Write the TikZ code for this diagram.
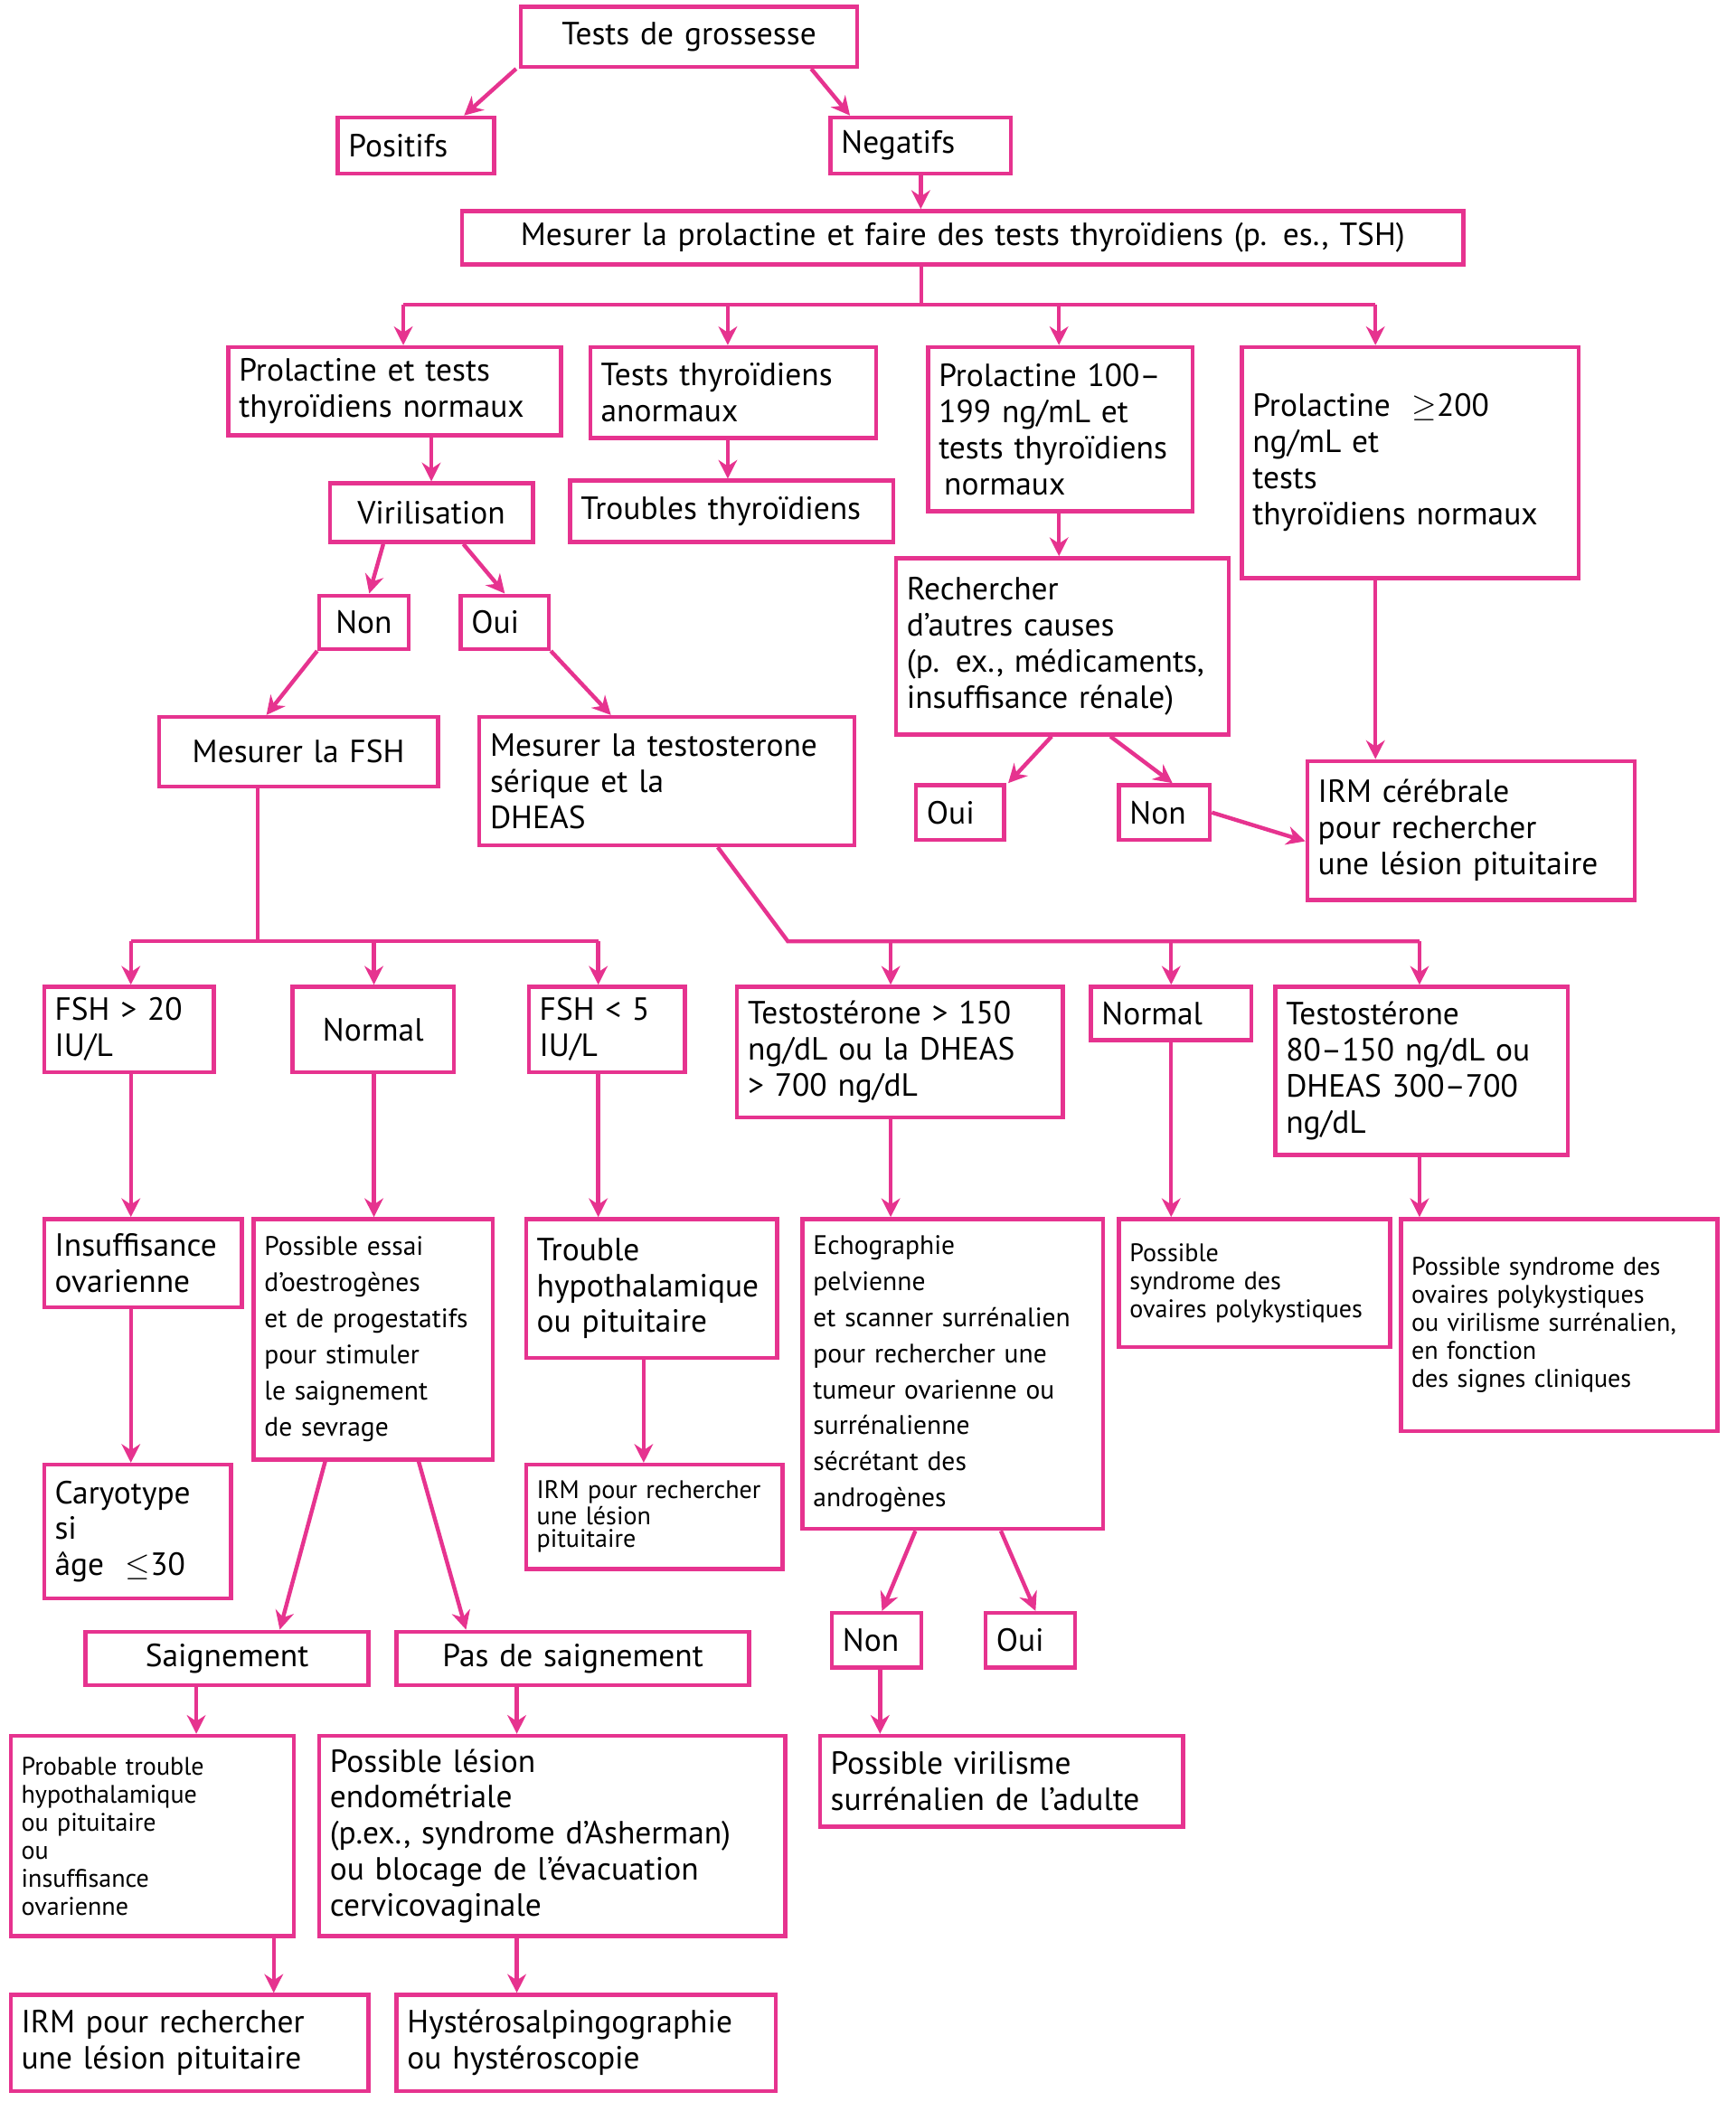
\documentclass[tikz,border=0pt]{standalone}
\usepackage{fontspec}
\setmainfont{PT Sans}
\usetikzlibrary{arrows.meta}
\definecolor{pk}{HTML}{E6338F}
\tikzset{
 box/.style={draw=pk,line width=1.5pt,inner xsep=4pt,inner ysep=2pt,align=left,font=\fontsize{12}{13.5}\selectfont},
 sm/.style={font=\fontsize{10}{13.5}\selectfont},
 xs/.style={font=\fontsize{9.5}{10.5}\selectfont},
 xxs/.style={font=\fontsize{9.5}{8.5}\selectfont},
 arr/.style={draw=pk,line width=1.5pt,-{Stealth[length=7pt,width=7pt]}},
 ln/.style={draw=pk,line width=1.5pt}
}
\newcommand\bx[7]{%
 \pgfmathsetmacro\bw{(#4-#2)*0.5}\pgfmathsetmacro\bh{(#5-#3)*0.5}\pgfmathsetmacro\tw{\bw-8}%
 \node[box,minimum width=\bw pt,minimum height=\bh pt,text width=\tw pt,#6] (#1) at ({(#2+#4)/2},{(#3+#5)/2}) {#7};}
\begin{document}
\begin{tikzpicture}[x=0.5pt,y=-0.5pt]
\useasboundingbox (0,0) rectangle (1300,1581);
\bx{tests}{390}{5}{642}{50}{align=center}{Tests de grossesse}
\bx{pos}{253}{88}{370}{130}{}{Positifs}
\bx{neg}{622}{88}{757}{130}{}{Negatifs}
\bx{mes}{346}{158}{1096}{198}{align=center}{Mesurer la prolactine et faire des tests thyroïdiens (p. es., TSH)}
\bx{pn}{171}{260}{420}{326}{}{Prolactine et tests\\thyroïdiens normaux}
\bx{ta}{442}{260}{656}{328}{}{Tests thyroïdiens\\anormaux}
\bx{p100}{695}{260}{893}{383}{}{Prolactine 100–\\199 ng/mL et\\tests thyroïdiens\\\hspace*{2pt}normaux}
\bx{p200}{930}{260}{1182}{433}{anchor=center}{Prolactine ~$\geq$200\\ng/mL et\\tests\\thyroïdiens normaux\\[3.5em]}
\bx{vir}{247}{362}{399}{406}{align=center}{Virilisation}
\bx{tt}{427}{360}{669}{406}{}{Troubles thyroïdiens}
\bx{rech}{671}{418}{920}{550}{}{Rechercher\\d'autres causes\\(p. ex., médicaments,\\insuffisance rénale)}
\bx{non1}{239}{446}{306}{486}{align=center}{Non}
\bx{oui1}{345}{446}{411}{486}{}{Oui}
\bx{fsh}{119}{537}{328}{589}{align=center}{Mesurer la FSH}
\bx{testo}{359}{537}{640}{633}{}{Mesurer la testosterone\\sérique et la\\DHEAS}
\bx{oui2}{686}{588}{752}{629}{}{Oui}
\bx{non2}{838}{588}{906}{629}{}{Non}
\bx{irm1}{979}{570}{1224}{674}{}{IRM cérébrale\\pour rechercher\\une lésion pituitaire}
\bx{fsh20}{33}{739}{160}{803}{}{FSH > 20\\IU/L}
\bx{norm1}{219}{739}{340}{803}{align=center}{Normal\\[1.2em]}
\bx{fsh5}{396}{739}{513}{803}{}{FSH < 5\\IU/L}
\bx{t150}{552}{739}{796}{837}{}{Testostérone > 150\\ng/dL ou la DHEAS\\> 700 ng/dL}
\bx{norm2}{817}{739}{937}{779}{}{Normal}
\bx{t80}{955}{739}{1174}{865}{}{Testostérone\\80–150 ng/dL ou\\DHEAS 300–700\\ng/dL}
\bx{ins}{33}{913}{181}{979}{}{Insuffisance\\ovarienne}
\bx{poss}{190}{913}{369}{1093}{sm}{Possible essai\\d'oestrogènes\\et de progestatifs\\pour stimuler\\le saignement\\de sevrage}
\bx{trouble}{394}{913}{582}{1017}{}{Trouble\\hypothalamique\\ou pituitaire}
\bx{echo}{601}{913}{826}{1145}{sm}{Echographie\\pelvienne\\et scanner surrénalien\\pour rechercher une\\tumeur ovarienne ou\\surrénalienne\\sécrétant des\\androgènes}
\bx{pcos}{838}{913}{1041}{1009}{xs}{Possible\\syndrome des\\ovaires polykystiques\\[1.2em]}
\bx{pcos2}{1049}{913}{1286}{1072}{xs}{Possible syndrome des\\ovaires polykystiques\\ou virilisme surrénalien,\\en fonction\\des signes cliniques\\[1.5em]}
\bx{cary}{33}{1097}{173}{1197}{}{Caryotype\\si\\âge ~$\leq$30}
\bx{irm2}{394}{1097}{586}{1175}{xxs}{IRM pour rechercher\\une lésion\\pituitaire}
\bx{saign}{64}{1222}{276}{1262}{align=center}{Saignement}
\bx{pas}{297}{1222}{561}{1262}{align=center}{Pas de saignement}
\bx{non3}{623}{1208}{690}{1249}{}{Non}
\bx{oui3}{738}{1208}{805}{1249}{}{Oui}
\bx{prob}{8}{1300}{220}{1450}{xs}{Probable trouble\\hypothalamique\\ou pituitaire\\ou\\insuffisance\\ovarienne}
\bx{lesion}{239}{1300}{588}{1450}{}{Possible lésion\\endométriale\\(p.ex., syndrome d'Asherman)\\ ou blocage de l'évacuation\\cervicovaginale}
\bx{viril}{614}{1300}{886}{1368}{}{Possible virilisme\\surrénalien de l'adulte}
\bx{irm3}{8}{1494}{276}{1566}{}{IRM pour rechercher\\ une lésion pituitaire}
\bx{hys}{297}{1494}{581}{1566}{}{Hystérosalpingographie\\ou hystéroscopie}
% top
\draw[arr] ([xshift=-1pt]tests.south west) -- ([xshift=-12pt]pos.north east);
\draw[arr] ([xshift=-18pt]tests.south east) -- ([xshift=8pt]neg.north west);
\draw[arr] (neg.south) -- (mes.north -| neg.south);
\coordinate (b1) at (690,228); \coordinate (b1l) at (302,228); \coordinate (b1r) at (1030,228);
\draw[ln] (mes.south -| b1) -- (b1);
\draw[ln] (b1l) -- (b1r);
\draw[arr] (b1l) -- (pn.north -| b1l);
\draw[arr] (545,228) -- (ta.north -| 545,0);
\draw[arr] (793,228) -- (p100.north -| 793,0);
\draw[arr] (b1r) -- (p200.north -| b1r);
\draw[arr] (pn.south -| vir.north) -- (vir.north);
\draw[arr] (ta.south -| 545,0) -- (tt.north -| 545,0);
\draw[arr] (p100.south -| 793,0) -- (rech.north -| 793,0);
\draw[arr] (p200.south -| b1r) -- (irm1.north -| b1r);
\draw[arr] ([xshift=-18pt]vir.south) -- ([xshift=2pt]non1.north);
\draw[arr] ([xshift=12pt]vir.south) -- ([xshift=0pt]oui1.north);
\draw[arr] ([xshift=0pt]non1.south west) -- ([xshift=-12pt]fsh.north);
\draw[arr] (oui1.south east) -- ([xshift=50pt]testo.north west);
\draw[arr] ([xshift=-4pt]rech.south) -- ([xshift=18pt]oui2.north);
\draw[arr] ([xshift=18pt]rech.south) -- ([xshift=3pt]non2.north);
\draw[arr] (non2.east) -- ([yshift=-4pt]irm1.west);
% FSH bus
\coordinate (f1) at (193,705); \coordinate (f0) at (98,705); \coordinate (f2) at (448,705);
\draw[ln] (fsh.south -| f1) -- (f1);
\draw[ln] (f0) -- (f2);
\draw[arr] (f0) -- (fsh20.north -| f0);
\draw[arr] (280,705) -- (norm1.north -| 280,0);
\draw[arr] (f2) -- (fsh5.north -| f2);
\coordinate (t1) at (590,705); \coordinate (t2) at (1063,705);
\draw[ln] ([xshift=-52pt]testo.south east) -- (t1) -- (t2);
\draw[arr] (667,705) -- (t150.north -| 667,0);
\draw[arr] (877,705) -- (norm2.north -| 877,0);
\draw[arr] (t2) -- (t80.north -| t2);
\draw[arr] (fsh20.south -| f0) -- (ins.north -| f0);
\draw[arr] (norm1.south -| 280,0) -- (poss.north -| 280,0);
\draw[arr] (fsh5.south -| f2) -- (trouble.north -| f2);
\draw[arr] (t150.south -| 667,0) -- (echo.north -| 667,0);
\draw[arr] (norm2.south -| 877,0) -- (pcos.north -| 877,0);
\draw[arr] (t80.south -| t2) -- (pcos2.north -| t2);
\draw[arr] (ins.south -| f0) -- (cary.north -| f0);
\draw[arr] (trouble.south -| 482,0) -- (irm2.north -| 482,0);
\draw[arr] ([xshift=-18pt]poss.south) -- ([xshift=-34pt]saign.north east);
\draw[arr] ([xshift=17pt]poss.south) -- ([xshift=-40pt]pas.north);
\draw[arr] ([xshift=-14pt]echo.south) -- ([xshift=2pt]non3.north);
\draw[arr] ([xshift=18pt]echo.south) -- ([xshift=2pt]oui3.north);
\draw[arr] (non3.south -| 659,0) -- (viril.north -| 659,0);
\draw[arr] (saign.south -| 147,0) -- (prob.north -| 147,0);
\draw[arr] (pas.south -| 387,0) -- (lesion.north -| 387,0);
\draw[arr] (prob.south -| 205,0) -- (irm3.north -| 205,0);
\draw[arr] (lesion.south -| 387,0) -- (hys.north -| 387,0);
\end{tikzpicture}
\end{document}
